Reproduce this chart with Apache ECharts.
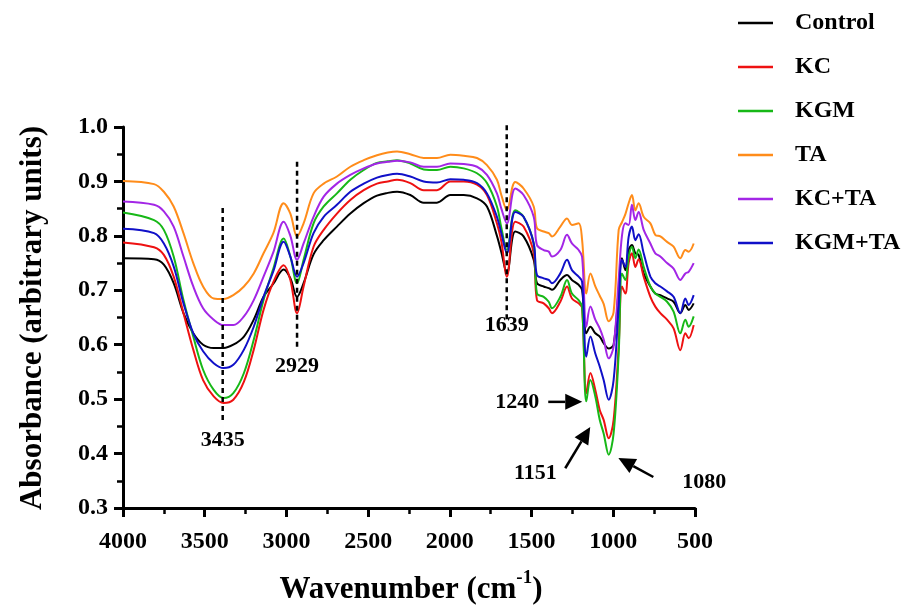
<!DOCTYPE html>
<html>
<head>
<meta charset="utf-8">
<script src="https://cdn.jsdelivr.net/npm/echarts@6/dist/echarts.min.js"></script>
<style>
html,body{margin:0;padding:0;background:#fff;}
#c{width:914px;height:608px;}
</style>
</head>
<body>
<div id="c"></div>
<script>
// Wavenumber grid (cm-1)
const wavenumbers = [4000,3810,3750,3690,3630,3570,3510,3445,3385,3325,3260,3200,3140,3080,3017,2976,2935,2895,2834,2772,2691,2609,2527,2446,2380,2323,2242,2160,2079,1997,1915,1834,1773,1712,1685,1651,1600,1549,1487,1467,1426,1395,1375,1324,1283,1253,1212,1191,1165,1140,1110,1083,1059,1028,998,967,947,926,906,886,865,845,814,773,743,712,671,631,590,559,539,508];

const control = [0.759,0.757,0.747,0.713,0.658,0.621,0.600,0.594,0.594,0.600,0.615,0.646,0.688,0.712,0.738,0.722,0.688,0.713,0.766,0.792,0.817,0.841,0.860,0.874,0.879,0.881,0.875,0.861,0.861,0.875,0.875,0.869,0.854,0.800,0.770,0.731,0.808,0.799,0.756,0.713,0.707,0.704,0.701,0.719,0.728,0.719,0.710,0.701,0.621,0.633,0.621,0.615,0.603,0.593,0.600,0.701,0.759,0.737,0.774,0.783,0.768,0.765,0.731,0.707,0.694,0.691,0.685,0.679,0.658,0.673,0.664,0.676];
const kc = [0.788,0.779,0.765,0.725,0.658,0.591,0.535,0.505,0.493,0.499,0.532,0.591,0.664,0.715,0.746,0.719,0.658,0.707,0.780,0.811,0.841,0.866,0.884,0.896,0.900,0.903,0.897,0.884,0.884,0.900,0.900,0.894,0.875,0.823,0.790,0.725,0.826,0.817,0.768,0.682,0.676,0.667,0.658,0.679,0.707,0.685,0.676,0.667,0.511,0.548,0.517,0.480,0.462,0.428,0.462,0.597,0.707,0.694,0.750,0.768,0.743,0.757,0.725,0.688,0.670,0.658,0.646,0.630,0.590,0.621,0.612,0.636];
const kgm = [0.843,0.829,0.811,0.762,0.682,0.615,0.554,0.517,0.502,0.511,0.548,0.609,0.682,0.740,0.795,0.762,0.713,0.756,0.823,0.854,0.878,0.903,0.921,0.934,0.937,0.939,0.933,0.922,0.921,0.927,0.924,0.915,0.897,0.854,0.815,0.774,0.847,0.835,0.786,0.694,0.688,0.679,0.667,0.688,0.719,0.694,0.682,0.670,0.496,0.535,0.505,0.462,0.437,0.398,0.437,0.584,0.731,0.719,0.762,0.780,0.759,0.775,0.743,0.707,0.694,0.688,0.679,0.661,0.621,0.646,0.633,0.652];
const ta = [0.901,0.895,0.881,0.854,0.805,0.750,0.707,0.685,0.684,0.691,0.707,0.731,0.768,0.805,0.860,0.841,0.799,0.823,0.878,0.896,0.909,0.927,0.939,0.948,0.953,0.955,0.950,0.943,0.943,0.949,0.947,0.943,0.930,0.903,0.875,0.847,0.899,0.887,0.854,0.814,0.808,0.805,0.799,0.817,0.832,0.820,0.823,0.793,0.694,0.731,0.707,0.690,0.675,0.643,0.660,0.811,0.825,0.840,0.860,0.875,0.847,0.860,0.835,0.823,0.802,0.799,0.789,0.780,0.759,0.774,0.771,0.786];
const kcTa = [0.863,0.857,0.845,0.817,0.762,0.707,0.667,0.646,0.636,0.636,0.652,0.682,0.725,0.770,0.826,0.800,0.756,0.786,0.835,0.872,0.896,0.912,0.924,0.933,0.936,0.938,0.935,0.927,0.927,0.933,0.932,0.927,0.912,0.878,0.850,0.823,0.887,0.875,0.835,0.783,0.774,0.771,0.762,0.774,0.802,0.786,0.774,0.762,0.633,0.670,0.646,0.630,0.610,0.575,0.597,0.720,0.800,0.823,0.820,0.857,0.829,0.844,0.811,0.786,0.768,0.762,0.750,0.740,0.719,0.731,0.734,0.750];
const kgmTa = [0.813,0.805,0.786,0.744,0.676,0.621,0.588,0.566,0.557,0.563,0.591,0.633,0.688,0.735,0.789,0.762,0.725,0.750,0.805,0.835,0.857,0.881,0.896,0.907,0.912,0.914,0.909,0.900,0.898,0.904,0.903,0.897,0.878,0.835,0.805,0.768,0.844,0.835,0.786,0.728,0.722,0.719,0.713,0.731,0.756,0.737,0.725,0.716,0.578,0.615,0.584,0.560,0.535,0.499,0.535,0.670,0.756,0.743,0.798,0.817,0.792,0.803,0.768,0.725,0.713,0.707,0.698,0.688,0.658,0.685,0.673,0.691];

const seriesNames = ['Control','KC','KGM','TA','KC+TA','KGM+TA'];
const seriesValues = [control, kc, kgm, ta, kcTa, kgmTa];
const seriesColors = ['#000000','#ee1111','#17b817','#ff8c1a','#a326e6','#1010c8'];

// Annotations: dashed peak markers [label, wavenumber, top, bottom, labelAbs]
const peakMarkers = [
  ['3435', 3390, 0.851, 0.460, 0.424],
  ['2929', 2935, 0.936, 0.594, 0.560],
  ['1639', 1652, 1.003, 0.645, 0.636]
];
// Arrow annotations: [label, labelWn, labelAbs, tailWn, tailAbs, tipWn, tipAbs]
const arrowMarkers = [
  ['1240', 1587, 0.495, 1398, 0.495, 1190, 0.495],
  ['1151', 1477, 0.364, 1294, 0.373, 1141, 0.449],
  ['1080', 443, 0.347, 755, 0.357, 969, 0.392]
];

const FONT = '"Liberation Serif", "Times New Roman", serif';

const chart = echarts.init(document.getElementById('c'));
const option = {
  animation: false,
  backgroundColor: '#fff',
  grid: {left: 123, right: 219, top: 127, bottom: 100},
  legend: {
    orient: 'vertical',
    left: 733, top: 6,
    itemWidth: 35, itemHeight: 2.5,
    itemGap: 20,
    icon: 'rect',
    data: seriesNames,
    textStyle: {fontFamily: FONT, fontWeight: 'bold', fontSize: 24, lineHeight: 24, color: '#000', padding: [0,0,0,17]}
  },
  xAxis: {
    type: 'value', inverse: true, min: 500, max: 4000, interval: 500,
    axisLine: {show: true, lineStyle: {color: '#000', width: 3}},
    axisTick: {show: true, inside: false, length: 9, lineStyle: {width: 3, color: '#000'}},
    minorTick: {show: true, splitNumber: 2, length: 6, lineStyle: {width: 2.5, color: '#000'}},
    splitLine: {show: false},
    axisLabel: {fontFamily: FONT, fontWeight: 'bold', fontSize: 24, color: '#000', margin: 22,
      formatter: v => String(v)}
  },
  yAxis: {
    type: 'value', min: 0.3, max: 1.0, interval: 0.1,
    axisLine: {show: true, lineStyle: {color: '#000', width: 3}},
    axisTick: {show: true, inside: false, length: 9, lineStyle: {width: 3, color: '#000'}},
    minorTick: {show: true, splitNumber: 2, length: 6, lineStyle: {width: 2.5, color: '#000'}},
    splitLine: {show: false},
    axisLabel: {fontFamily: FONT, fontWeight: 'bold', fontSize: 24, color: '#000', margin: 15,
      formatter: v => v.toFixed(1)}
  },
  series: seriesNames.map((name, i) => ({
    name: name,
    type: 'line',
    data: wavenumbers.map((w, j) => [w, seriesValues[i][j]]),
    showSymbol: false,
    symbol: 'none',
    smooth: 0.35,
    lineStyle: {color: seriesColors[i], width: 2},
    itemStyle: {color: seriesColors[i]}
  }))
};
chart.setOption(option);

function px(w, a) { return chart.convertToPixel({gridIndex: 0}, [w, a]); }
const g = [];
const labelStyle = (text) => ({text: text, fontFamily: FONT, fontWeight: 'bold', fontSize: 22, fill: '#000', align: 'center', verticalAlign: 'middle'});

peakMarkers.forEach(m => {
  const p1 = px(m[1], m[2]), p2 = px(m[1], m[3]), pl = px(m[1], m[4]);
  g.push({type: 'line', shape: {x1: p1[0], y1: p1[1], x2: p2[0], y2: p2[1]}, style: {stroke: '#000', lineWidth: 2.5, lineDash: [5, 4]}, z: 50});
  g.push({type: 'text', x: pl[0], y: pl[1], style: labelStyle(m[0]), z: 50});
});
arrowMarkers.forEach(m => {
  const pl = px(m[1], m[2]), pt = px(m[3], m[4]), pp = px(m[5], m[6]);
  const dx = pp[0] - pt[0], dy = pp[1] - pt[1];
  const len = Math.sqrt(dx*dx + dy*dy);
  const ux = dx/len, uy = dy/len;
  const hl = 17, hw = 8;
  const bx = pp[0] - ux*hl, by = pp[1] - uy*hl;
  g.push({type: 'line', shape: {x1: pt[0], y1: pt[1], x2: bx, y2: by}, style: {stroke: '#000', lineWidth: 2.5}, z: 50});
  g.push({type: 'polygon', shape: {points: [[pp[0], pp[1]], [bx - uy*hw, by + ux*hw], [bx + uy*hw, by - ux*hw]]}, style: {fill: '#000'}, z: 50});
  g.push({type: 'text', x: pl[0], y: pl[1], style: labelStyle(m[0]), z: 50});
});

// Axis titles
g.push({type: 'text', x: 33, y: 318, rotation: Math.PI/2,
  style: {text: 'Absorbance (arbitrary units)', fontFamily: FONT, fontWeight: 'bold', fontSize: 31, fill: '#000', align: 'center', verticalAlign: 'middle'}});

const ctx = document.createElement('canvas').getContext('2d');
const mainFont = 'bold 31px "Liberation Serif"';
const supFont = 'bold 19px "Liberation Serif"';
ctx.font = mainFont; const w1 = ctx.measureText('Wavenumber (cm').width; const w3 = ctx.measureText(')').width;
ctx.font = supFont; const w2 = ctx.measureText('-1').width;
const tot = w1 + w2 + w3; const x0 = 411 - tot/2; const ty = 590;
g.push({type: 'text', x: x0, y: ty, style: {text: 'Wavenumber (cm', fontFamily: FONT, fontWeight: 'bold', fontSize: 31, fill: '#000', align: 'left', verticalAlign: 'middle'}});
g.push({type: 'text', x: x0 + w1, y: ty - 12, style: {text: '-1', fontFamily: FONT, fontWeight: 'bold', fontSize: 19, fill: '#000', align: 'left', verticalAlign: 'middle'}});
g.push({type: 'text', x: x0 + w1 + w2, y: ty, style: {text: ')', fontFamily: FONT, fontWeight: 'bold', fontSize: 31, fill: '#000', align: 'left', verticalAlign: 'middle'}});

chart.setOption({graphic: g});
</script>
</body>
</html>
